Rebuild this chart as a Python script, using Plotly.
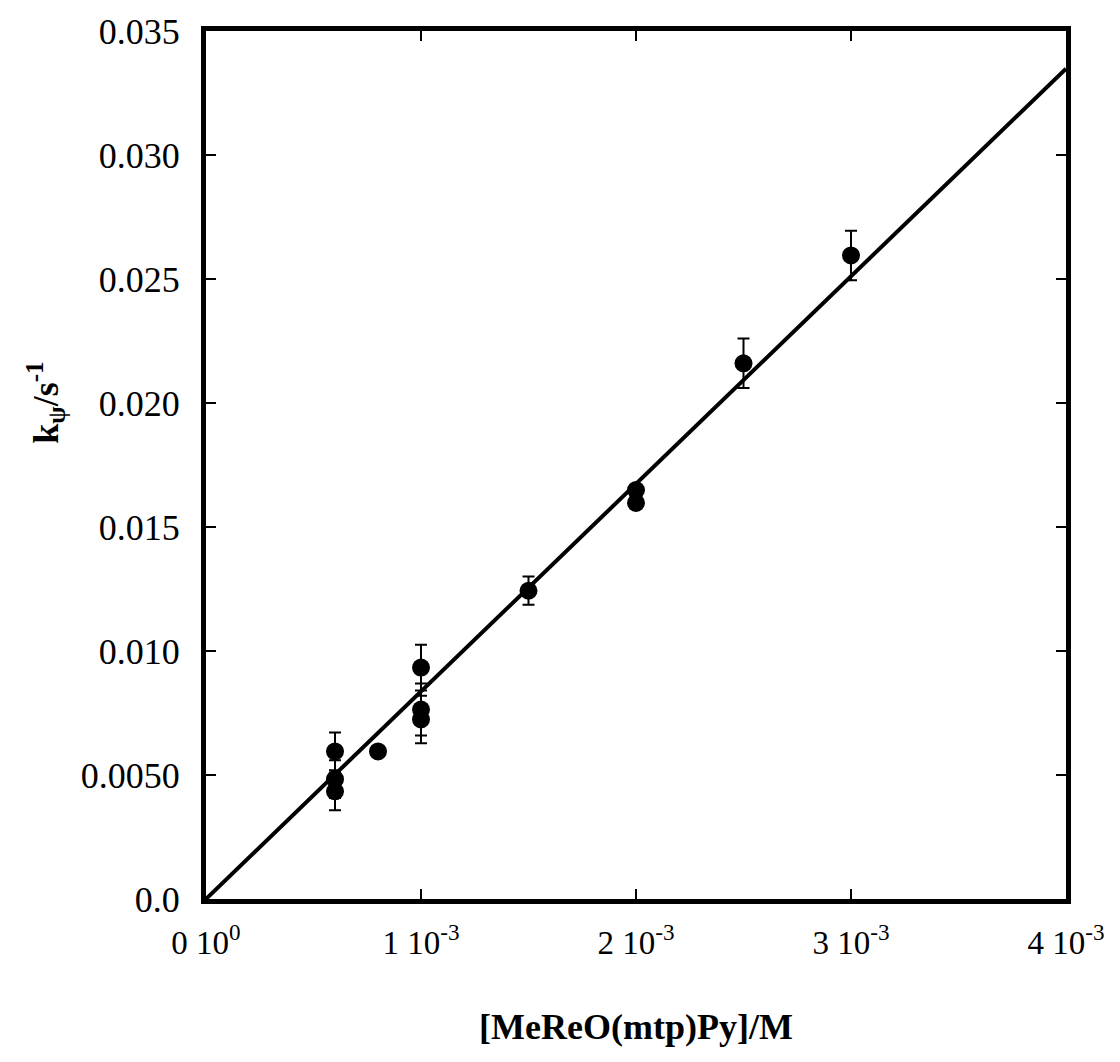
import plotly.graph_objects as go

# Data
conc = [0.6e-3, 0.6e-3, 0.6e-3, 0.8e-3, 1.0e-3, 1.0e-3, 1.0e-3, 1.5e-3, 2.0e-3, 2.0e-3, 2.5e-3, 3.0e-3]
k_obs = [0.00595, 0.00483, 0.00434, 0.00595, 0.00933, 0.00764, 0.00724, 0.01243, 0.01649, 0.01597, 0.0216, 0.02595]
k_err = [0.00076, 0.00076, 0.00076, 0.0, 0.00092, 0.00105, 0.00096, 0.00057, 0.0, 0.0, 0.001, 0.001]

fit_x = [0.0, 4.0e-3]
fit_slope = 8.37  # M^-1 s^-1

x_tickvals = [0, 1e-3, 2e-3, 3e-3, 4e-3]
x_ticktext = ["0 10<sup>0</sup>", "1 10<sup>-3</sup>", "2 10<sup>-3</sup>", "3 10<sup>-3</sup>", "4 10<sup>-3</sup>"]
y_tickvals = [0, 0.005, 0.010, 0.015, 0.020, 0.025, 0.030, 0.035]
y_ticktext = ["0.0", "0.0050", "0.010", "0.015", "0.020", "0.025", "0.030", "0.035"]

FONT = "Liberation Serif"

fig = go.Figure()
fig.add_trace(go.Scatter(
    x=fit_x, y=[fit_slope * v for v in fit_x], mode="lines",
    line=dict(color="black", width=4), showlegend=False, hoverinfo="skip"))
fig.add_trace(go.Scatter(
    x=conc, y=k_obs, mode="markers",
    marker=dict(color="black", size=18),
    error_y=dict(type="data", array=k_err, color="black", thickness=2, width=6),
    showlegend=False))

axis_common = dict(
    showline=True, linecolor="black", linewidth=5, mirror="ticks",
    ticks="inside", ticklen=10, tickwidth=2, tickcolor="black",
    showgrid=False, zeroline=False, automargin=False,
)

fig.update_xaxes(range=[0, 4e-3], tickvals=x_tickvals, ticktext=x_ticktext,
                 ticklabelstandoff=10,
                 tickfont=dict(family=FONT, size=33, color="black"),
                 title=dict(text="<b>[MeReO(mtp)Py]/M</b>", font=dict(family=FONT, size=36, color="black"), standoff=56),
                 **axis_common)
fig.update_yaxes(range=[0, 0.035], tickvals=y_tickvals, ticktext=y_ticktext,
                 ticklabelstandoff=14,
                 tickfont=dict(family=FONT, size=36, color="black"),
                 **axis_common)

fig.add_annotation(
    text="<b>k<sub>ψ</sub>/s<sup>-1</sup></b>", textangle=-90,
    xref="paper", yref="paper", x=-0.187, y=0.572,
    xanchor="center", yanchor="middle", showarrow=False,
    font=dict(family=FONT, size=36, color="black"))

fig.update_layout(
    width=1120, height=1062,
    margin=dict(l=198, r=62, t=23, b=171),
    plot_bgcolor="white", paper_bgcolor="white",
)

fig.write_html("out.html")
